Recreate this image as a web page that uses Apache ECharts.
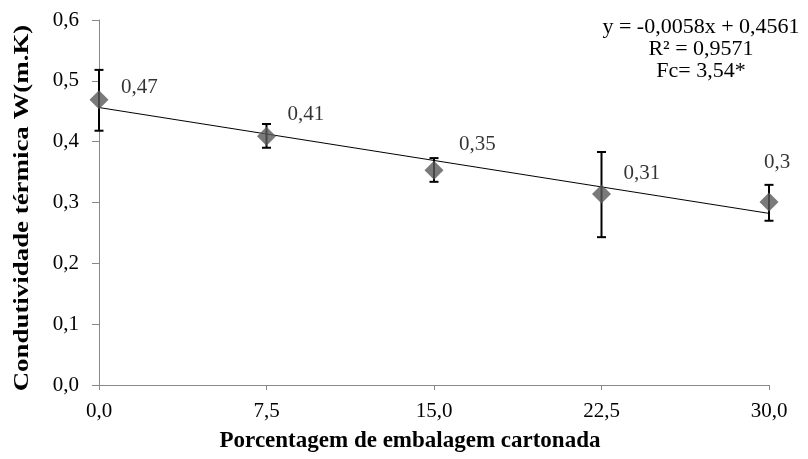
<!DOCTYPE html>
<html>
<head>
<meta charset="utf-8">
<script src="https://cdn.jsdelivr.net/npm/echarts@6/dist/echarts.min.js"></script>
</head>
<body style="margin:0;background:#fff">
<div id="main" style="width:808px;height:459px;"></div>
<script type="text/javascript">
// dados
var percentagens = [0, 7.5, 15, 22.5, 30];
var condutividade = [0.469, 0.409, 0.353, 0.314, 0.301];
var erroInferior = [0.418, 0.390, 0.334, 0.243, 0.270];
var erroSuperior = [0.518, 0.429, 0.373, 0.383, 0.329];
var rotulos = ['0,47', '0,41', '0,35', '0,31', '0,3'];
// linha de tendência y = -0,0058x + 0,4561 (extremos)
var tendenciaX = [0, 30];
var tendenciaY = [0.4561, 0.2821];
var equacao = ['y = -0,0058x + 0,4561', 'R² = 0,9571', 'Fc= 3,54*'];

var fonte = '"Liberation Serif", "Times New Roman", serif';
var deslocRotulo = [[22, -12], [21, -22], [25, -26], [22, -20], [8, -39]];

var myChart = echarts.init(document.getElementById('main'));

var pontos = percentagens.map(function (x, i) {
    return {
        value: [x, condutividade[i]],
        label: {
            offset: deslocRotulo[i],
            align: i === 4 ? 'center' : 'left'
        }
    };
});
var barras = percentagens.map(function (x, i) {
    return [x, erroInferior[i], erroSuperior[i]];
});

var textos = equacao.map(function (t, i) {
    return {
        type: 'text',
        x: 701, y: 27 + i * 22,
        style: {
            text: t, fill: '#000', font: '22px ' + fonte,
            align: 'center', verticalAlign: 'middle'
        }
    };
});
// título do eixo y (alongado como no original)
textos.push({
    type: 'text',
    x: 23, y: 208,
    rotation: Math.PI / 2,
    scaleX: 1.28,
    style: {
        text: 'Condutividade térmica W(m.K)', fill: '#000',
        font: 'bold 21px ' + fonte,
        align: 'center', verticalAlign: 'middle'
    }
});

option = {
    animation: false,
    grid: { left: 99, right: 39, top: 20, bottom: 74 },
    xAxis: {
        type: 'value',
        min: 0, max: 30, interval: 7.5,
        name: 'Porcentagem de embalagem cartonada',
        nameLocation: 'middle',
        nameGap: 45,
        nameTextStyle: { fontFamily: fonte, fontWeight: 'bold', fontSize: 23, color: '#000', padding: [0, 48, 0, 0] },
        splitLine: { show: false },
        axisLine: { lineStyle: { color: '#888', width: 1 } },
        axisTick: { show: true, length: 5, lineStyle: { color: '#888' } },
        axisLabel: {
            fontFamily: fonte, fontSize: 21, color: '#000', margin: 16,
            formatter: function (v) { return v.toFixed(1).replace('.', ','); }
        }
    },
    yAxis: {
        type: 'value',
        min: 0, max: 0.6, interval: 0.1,
        splitLine: { show: false },
        axisLine: { show: true, lineStyle: { color: '#888', width: 1 } },
        axisTick: { show: true, length: 7, lineStyle: { color: '#888' } },
        axisLabel: {
            fontFamily: fonte, fontSize: 21, color: '#000', margin: 20,
            formatter: function (v) { return v.toFixed(1).replace('.', ','); }
        }
    },
    graphic: textos,
    series: [
        {
            type: 'line',
            data: tendenciaX.map(function (x, i) { return [x, tendenciaY[i]]; }),
            symbol: 'none',
            lineStyle: { color: '#000', width: 1 },
            z: 2
        },
        {
            type: 'custom',
            data: barras,
            renderItem: function (params, api) {
                var x = api.value(0);
                var lo = api.coord([x, api.value(1)]);
                var hi = api.coord([x, api.value(2)]);
                var cap = 4.5;
                var st = { stroke: '#000', lineWidth: 2 };
                return {
                    type: 'group',
                    children: [
                        { type: 'line', shape: { x1: lo[0], y1: lo[1], x2: hi[0], y2: hi[1] }, style: st },
                        { type: 'line', shape: { x1: lo[0] - cap, y1: lo[1], x2: lo[0] + cap, y2: lo[1] }, style: st },
                        { type: 'line', shape: { x1: hi[0] - cap, y1: hi[1], x2: hi[0] + cap, y2: hi[1] }, style: st }
                    ]
                };
            },
            z: 3
        },
        {
            type: 'scatter',
            data: pontos,
            symbol: 'diamond',
            symbolSize: [19, 19],
            itemStyle: { color: '#595959' },
            label: {
                show: true,
                position: 'inside',
                fontFamily: fonte, fontSize: 21, color: '#000',
                formatter: function (p) { return rotulos[p.dataIndex]; }
            },
            z: 4
        }
    ]
};

myChart.setOption(option);
</script>
</body>
</html>
